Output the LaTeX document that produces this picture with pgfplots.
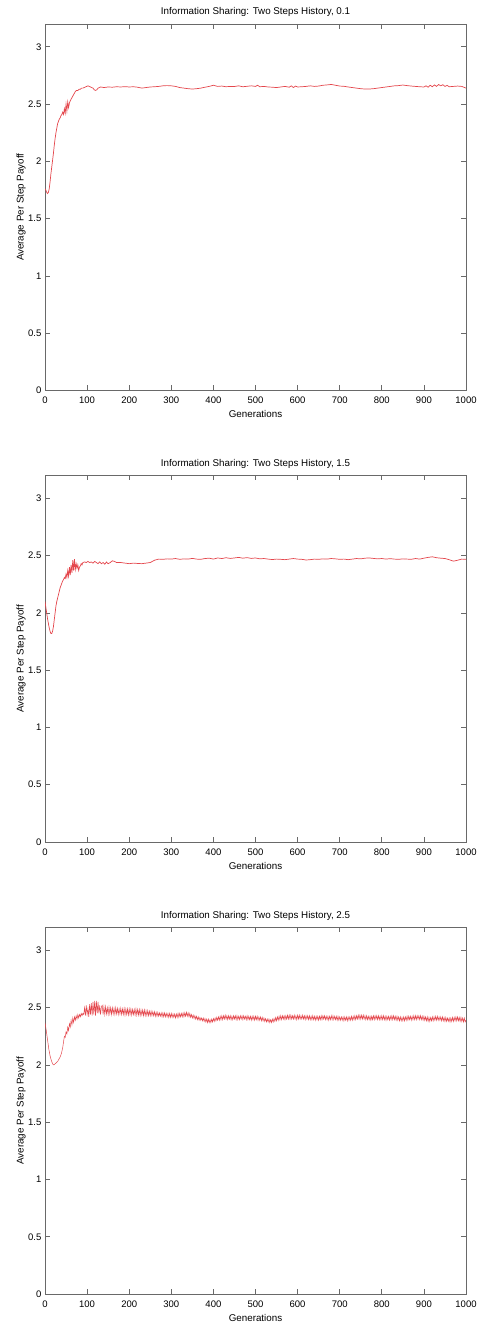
\documentclass[border=0pt]{standalone}
\usepackage{pgfplots}
\pgfplotsset{compat=1.18}
\usepackage{pgfplotstable}
\usepackage{fontspec}
\setmainfont{Liberation Sans}

\definecolor{linered}{RGB}{228,70,76}
\definecolor{framegray}{RGB}{105,105,105}

% panel 1: 0.1
\pgfplotstableread[row sep=\\]{
x y\\
0 1.76\\ 2 1.75\\ 4 1.73\\ 6 1.72\\ 8 1.73\\ 10 1.76\\ 12 1.82\\ 14 1.89\\ 16 1.95\\ 18 2.01\\
20 2.07\\ 22 2.14\\ 24 2.20\\ 26 2.25\\ 28 2.29\\ 30 2.33\\ 32 2.35\\ 34 2.37\\ 36 2.38\\ 38 2.40\\
40 2.41\\ 42 2.43\\ 44 2.41\\ 46 2.46\\ 48 2.42\\ 50 2.50\\ 52 2.44\\ 54 2.52\\ 56 2.47\\ 58 2.51\\
60 2.53\\ 63 2.55\\ 66 2.57\\ 69 2.59\\ 72 2.61\\ 75 2.62\\ 78 2.62\\ 81 2.63\\ 84 2.63\\ 87 2.64\\
90 2.64\\ 93 2.645\\ 96 2.65\\ 99 2.655\\ 102 2.66\\ 105 2.655\\ 108 2.65\\ 111 2.645\\ 114 2.64\\
117 2.625\\ 120 2.62\\ 123 2.625\\ 126 2.64\\ 129 2.645\\ 132 2.65\\ 140 2.645\\ 150 2.65\\
160 2.648\\ 170 2.652\\ 180 2.65\\ 190 2.653\\ 200 2.65\\ 210 2.652\\ 220 2.648\\ 230 2.64\\
240 2.645\\ 250 2.65\\ 260 2.652\\ 270 2.655\\ 280 2.66\\ 290 2.662\\ 300 2.66\\ 310 2.655\\
320 2.645\\ 330 2.64\\ 340 2.635\\ 350 2.632\\ 360 2.635\\ 370 2.64\\ 380 2.648\\ 390 2.655\\
400 2.665\\ 410 2.655\\ 420 2.658\\ 430 2.652\\ 440 2.655\\ 450 2.654\\ 460 2.66\\ 470 2.652\\
480 2.656\\ 490 2.66\\ 500 2.655\\ 505 2.665\\ 510 2.652\\ 520 2.655\\ 530 2.65\\ 540 2.648\\
550 2.645\\ 560 2.65\\ 570 2.655\\ 580 2.648\\ 585 2.66\\ 590 2.645\\ 595 2.658\\ 600 2.65\\
610 2.652\\ 620 2.655\\ 630 2.66\\ 640 2.655\\ 650 2.658\\ 660 2.665\\ 670 2.668\\ 680 2.672\\
690 2.665\\ 700 2.658\\ 710 2.656\\ 720 2.65\\ 730 2.645\\ 740 2.64\\ 750 2.635\\ 760 2.632\\
770 2.632\\ 780 2.635\\ 790 2.64\\ 800 2.645\\ 810 2.65\\ 820 2.655\\ 830 2.66\\ 840 2.662\\
850 2.667\\ 860 2.662\\ 870 2.658\\ 880 2.655\\ 890 2.652\\ 900 2.65\\ 905 2.66\\ 910 2.648\\
915 2.665\\ 920 2.652\\ 925 2.668\\ 930 2.655\\ 935 2.672\\ 940 2.66\\ 945 2.67\\ 950 2.655\\
955 2.664\\ 960 2.652\\ 970 2.655\\ 980 2.658\\ 990 2.655\\ 1000 2.64\\
}\dataA

% panel 2: 1.5
\pgfplotstableread[row sep=\\]{
x y\\
0 2.10\\ 2 2.05\\ 4 2.00\\ 6 1.95\\ 8 1.91\\ 10 1.87\\ 12 1.84\\ 14 1.82\\ 16 1.82\\ 18 1.84\\
20 1.88\\ 22 1.94\\ 24 2.00\\ 26 2.06\\ 28 2.10\\ 30 2.13\\ 32 2.16\\ 34 2.19\\ 36 2.22\\ 38 2.24\\
40 2.26\\ 42 2.28\\ 44 2.29\\ 46 2.31\\ 48 2.30\\ 50 2.34\\ 52 2.31\\ 54 2.37\\ 56 2.32\\ 58 2.40\\
60 2.33\\ 62 2.42\\ 64 2.35\\ 66 2.46\\ 68 2.37\\ 70 2.47\\ 72 2.38\\ 74 2.43\\ 76 2.39\\ 78 2.42\\
80 2.37\\ 82 2.40\\ 84 2.41\\ 86 2.43\\ 88 2.42\\ 90 2.44\\ 94 2.445\\ 98 2.44\\ 102 2.45\\
106 2.44\\ 110 2.445\\ 114 2.435\\ 118 2.45\\ 122 2.44\\ 126 2.43\\ 130 2.445\\ 134 2.43\\
138 2.44\\ 142 2.425\\ 146 2.445\\ 150 2.43\\ 155 2.44\\ 160 2.455\\ 165 2.45\\ 170 2.44\\
180 2.44\\ 190 2.435\\ 200 2.43\\ 210 2.435\\ 220 2.432\\ 230 2.43\\ 240 2.435\\ 250 2.44\\
255 2.45\\ 260 2.46\\ 270 2.47\\ 280 2.468\\ 290 2.472\\ 300 2.47\\ 310 2.475\\ 320 2.468\\
330 2.472\\ 340 2.47\\ 350 2.476\\ 360 2.47\\ 370 2.468\\ 380 2.475\\ 390 2.478\\ 400 2.47\\
410 2.48\\ 420 2.475\\ 430 2.482\\ 440 2.476\\ 450 2.48\\ 460 2.485\\ 470 2.478\\ 480 2.483\\
490 2.476\\ 500 2.48\\ 510 2.472\\ 520 2.475\\ 530 2.47\\ 540 2.466\\ 550 2.47\\ 560 2.468\\
570 2.465\\ 580 2.47\\ 590 2.475\\ 600 2.47\\ 610 2.468\\ 620 2.462\\ 630 2.465\\ 640 2.47\\
650 2.468\\ 660 2.472\\ 670 2.47\\ 680 2.475\\ 690 2.472\\ 700 2.468\\ 710 2.47\\ 720 2.465\\
730 2.47\\ 740 2.475\\ 750 2.472\\ 760 2.478\\ 770 2.48\\ 780 2.476\\ 790 2.472\\ 800 2.475\\
810 2.47\\ 820 2.474\\ 830 2.47\\ 840 2.468\\ 850 2.472\\ 860 2.47\\ 870 2.468\\ 880 2.475\\
890 2.47\\ 900 2.478\\ 910 2.485\\ 920 2.49\\ 930 2.482\\ 940 2.478\\ 950 2.475\\ 960 2.465\\
970 2.452\\ 980 2.46\\ 990 2.47\\ 1000 2.468\\
}\dataB

% panel 3: 2.5
\pgfplotstableread[row sep=\\]{
x y\\
0 2.37\\ 3 2.30\\ 6 2.22\\ 9 2.14\\ 12 2.08\\ 15 2.04\\ 18 2.01\\ 21 2.00\\ 24 2.01\\ 27 2.02\\
30 2.03\\ 33 2.05\\ 36 2.07\\ 39 2.10\\ 42 2.15\\ 44 2.20\\ 46 2.25\\ 48 2.24\\ 50 2.29\\ 52 2.27\\
54 2.33\\ 56 2.30\\ 58 2.36\\ 60 2.33\\ 62 2.39\\ 64 2.35\\ 66 2.41\\ 68 2.37\\ 70 2.42\\ 72 2.39\\
74 2.43\\ 76 2.40\\ 78 2.44\\ 80 2.41\\ 82 2.44\\ 84 2.42\\ 86 2.45\\ 88 2.43\\ 90 2.45\\ 92 2.44\\
94 2.50\\ 96 2.43\\ 98 2.52\\ 100 2.44\\ 102 2.49\\ 104 2.42\\ 106 2.53\\ 108 2.44\\ 110 2.54\\
112 2.43\\ 114 2.55\\ 116 2.44\\ 118 2.56\\ 120 2.43\\ 122 2.56\\ 124 2.45\\ 126 2.55\\ 128 2.45\\
130 2.52\\ 132 2.44\\ 134 2.51\\
136 2.52\\ 138 2.44\\ 140 2.51\\ 142 2.44\\ 144 2.51\\ 146 2.445\\ 148 2.50\\ 150 2.44\\
152 2.505\\ 154 2.445\\ 156 2.50\\ 158 2.44\\ 160 2.50\\ 162 2.445\\ 164 2.495\\ 166 2.44\\
168 2.50\\ 170 2.445\\ 172 2.495\\ 174 2.44\\ 176 2.49\\ 178 2.445\\ 180 2.495\\ 182 2.44\\
184 2.49\\ 186 2.44\\ 188 2.495\\ 190 2.435\\ 192 2.49\\ 194 2.44\\ 196 2.49\\ 198 2.435\\
200 2.49\\ 202 2.44\\ 204 2.49\\ 206 2.435\\ 208 2.485\\ 210 2.44\\ 212 2.485\\ 214 2.435\\
216 2.49\\ 218 2.435\\ 220 2.485\\ 222 2.435\\ 224 2.485\\ 226 2.43\\ 228 2.48\\ 230 2.435\\
232 2.48\\ 234 2.43\\ 236 2.48\\ 238 2.43\\ 240 2.475\\ 242 2.43\\ 244 2.475\\ 246 2.43\\
248 2.47\\ 250 2.43\\ 252 2.47\\ 254 2.43\\ 256 2.465\\ 258 2.43\\ 260 2.465\\ 262 2.425\\
264 2.46\\ 266 2.425\\ 268 2.46\\ 270 2.425\\ 272 2.455\\ 274 2.425\\ 276 2.455\\ 278 2.42\\
280 2.455\\ 282 2.42\\ 284 2.455\\ 286 2.42\\ 288 2.45\\ 290 2.42\\ 292 2.45\\ 294 2.415\\
296 2.45\\ 298 2.415\\ 300 2.45\\ 302 2.415\\ 304 2.445\\ 306 2.415\\ 308 2.445\\ 310 2.41\\
312 2.445\\ 314 2.415\\ 316 2.45\\ 318 2.415\\ 320 2.45\\ 322 2.42\\ 324 2.45\\ 326 2.42\\
328 2.455\\ 330 2.42\\ 332 2.455\\ 334 2.425\\ 336 2.46\\ 338 2.425\\ 340 2.455\\ 342 2.42\\
344 2.45\\ 346 2.415\\ 348 2.44\\ 350 2.41\\ 352 2.435\\ 354 2.405\\ 356 2.43\\ 358 2.40\\
360 2.425\\ 362 2.395\\ 364 2.42\\ 366 2.39\\ 368 2.415\\ 370 2.39\\ 372 2.41\\ 374 2.385\\
376 2.41\\ 378 2.38\\ 380 2.405\\ 382 2.375\\ 384 2.40\\ 386 2.37\\ 388 2.40\\ 390 2.37\\
392 2.395\\ 394 2.37\\ 396 2.40\\ 398 2.375\\ 400 2.405\\ 402 2.38\\ 404 2.41\\ 406 2.385\\
408 2.415\\ 410 2.39\\ 412 2.42\\ 414 2.39\\ 416 2.425\\ 418 2.395\\ 420 2.43\\ 422 2.395\\
424 2.43\\ 426 2.40\\ 428 2.435\\ 430 2.40\\ 432 2.43\\ 434 2.395\\ 436 2.43\\ 438 2.40\\
440 2.43\\ 442 2.395\\ 444 2.425\\ 446 2.395\\ 448 2.43\\ 450 2.40\\ 452 2.43\\ 454 2.395\\
456 2.43\\ 458 2.395\\ 460 2.425\\ 462 2.395\\ 464 2.43\\ 466 2.40\\ 468 2.43\\ 470 2.395\\
472 2.43\\ 474 2.40\\ 476 2.425\\ 478 2.395\\ 480 2.43\\ 482 2.395\\ 484 2.425\\ 486 2.395\\
488 2.425\\ 490 2.39\\ 492 2.425\\ 494 2.395\\ 496 2.425\\ 498 2.39\\ 500 2.425\\ 502 2.395\\
504 2.425\\ 506 2.39\\ 508 2.42\\ 510 2.39\\ 512 2.42\\ 514 2.385\\ 516 2.415\\ 518 2.385\\
520 2.41\\ 522 2.38\\ 524 2.405\\ 526 2.375\\ 528 2.40\\ 530 2.375\\ 532 2.40\\ 534 2.37\\
536 2.395\\ 538 2.37\\ 540 2.40\\ 542 2.375\\ 544 2.405\\ 546 2.38\\ 548 2.415\\ 550 2.385\\
552 2.42\\ 554 2.39\\ 556 2.425\\ 558 2.395\\ 560 2.43\\ 562 2.395\\ 564 2.43\\ 566 2.40\\
568 2.43\\ 570 2.395\\ 572 2.43\\ 574 2.40\\ 576 2.435\\ 578 2.40\\ 580 2.435\\ 582 2.40\\
584 2.435\\ 586 2.40\\ 588 2.43\\ 590 2.40\\ 592 2.435\\ 594 2.40\\ 596 2.43\\ 598 2.395\\
600 2.435\\ 602 2.40\\ 604 2.435\\ 606 2.40\\ 608 2.43\\ 610 2.40\\ 612 2.435\\ 614 2.40\\
616 2.43\\ 618 2.395\\ 620 2.43\\ 622 2.40\\ 624 2.43\\ 626 2.395\\ 628 2.43\\ 630 2.395\\
632 2.425\\ 634 2.395\\ 636 2.43\\ 638 2.395\\ 640 2.425\\ 642 2.39\\ 644 2.425\\ 646 2.395\\
648 2.425\\ 650 2.39\\ 652 2.425\\ 654 2.395\\ 656 2.43\\ 658 2.395\\ 660 2.43\\ 662 2.40\\
664 2.43\\ 666 2.395\\ 668 2.425\\ 670 2.395\\ 672 2.425\\ 674 2.39\\ 676 2.425\\ 678 2.395\\
680 2.43\\ 682 2.395\\ 684 2.43\\ 686 2.395\\ 688 2.425\\ 690 2.395\\ 692 2.425\\ 694 2.39\\
696 2.425\\ 698 2.39\\ 700 2.42\\ 702 2.39\\ 704 2.42\\ 706 2.39\\ 708 2.42\\ 710 2.385\\
712 2.42\\ 714 2.39\\ 716 2.42\\ 718 2.385\\ 720 2.42\\ 722 2.39\\ 724 2.42\\ 726 2.39\\
728 2.425\\ 730 2.39\\ 732 2.425\\ 734 2.395\\ 736 2.43\\ 738 2.395\\ 740 2.43\\ 742 2.40\\
744 2.435\\ 746 2.40\\ 748 2.435\\ 750 2.40\\ 752 2.435\\ 754 2.40\\ 756 2.435\\ 758 2.40\\
760 2.43\\ 762 2.395\\ 764 2.43\\ 766 2.395\\ 768 2.425\\ 770 2.395\\ 772 2.425\\ 774 2.39\\
776 2.425\\ 778 2.395\\ 780 2.43\\ 782 2.395\\ 784 2.43\\ 786 2.40\\ 788 2.43\\ 790 2.395\\
792 2.43\\ 794 2.395\\ 796 2.425\\ 798 2.395\\ 800 2.43\\ 802 2.395\\ 804 2.43\\ 806 2.395\\
808 2.425\\ 810 2.39\\ 812 2.425\\ 814 2.395\\ 816 2.425\\ 818 2.39\\ 820 2.425\\ 822 2.395\\
824 2.43\\ 826 2.395\\ 828 2.43\\ 830 2.395\\ 832 2.425\\ 834 2.39\\ 836 2.425\\ 838 2.39\\
840 2.42\\ 842 2.385\\ 844 2.42\\ 846 2.385\\ 848 2.415\\ 850 2.385\\ 852 2.42\\ 854 2.385\\
856 2.42\\ 858 2.39\\ 860 2.425\\ 862 2.39\\ 864 2.425\\ 866 2.395\\ 868 2.425\\ 870 2.39\\
872 2.425\\ 874 2.395\\ 876 2.43\\ 878 2.395\\ 880 2.43\\ 882 2.395\\ 884 2.43\\ 886 2.40\\
888 2.43\\ 890 2.395\\ 892 2.43\\ 894 2.395\\ 896 2.425\\ 898 2.39\\ 900 2.425\\ 902 2.39\\
904 2.42\\ 906 2.385\\ 908 2.42\\ 910 2.38\\ 912 2.415\\ 914 2.38\\ 916 2.415\\ 918 2.385\\
920 2.42\\ 922 2.385\\ 924 2.42\\ 926 2.39\\ 928 2.425\\ 930 2.39\\ 932 2.425\\ 934 2.39\\
936 2.42\\ 938 2.39\\ 940 2.42\\ 942 2.385\\ 944 2.42\\ 946 2.385\\ 948 2.415\\ 950 2.38\\
952 2.415\\ 954 2.38\\ 956 2.41\\ 958 2.38\\ 960 2.41\\ 962 2.375\\ 964 2.41\\ 966 2.38\\
968 2.415\\ 970 2.38\\ 972 2.415\\ 974 2.385\\ 976 2.42\\ 978 2.385\\ 980 2.42\\ 982 2.385\\
984 2.415\\ 986 2.38\\ 988 2.415\\ 990 2.38\\ 992 2.41\\ 994 2.375\\ 996 2.41\\ 998 2.375\\
1000 2.39\\
}\dataC

\pgfplotsset{
  panel/.style={
    scale only axis,
    width=421pt, height=366.5pt,
    xmin=0, xmax=1000, ymin=0, ymax=3.2,
    xtick={0,100,...,1000}, ytick={0,0.5,...,3},
    tick align=inside,
    major tick length=5pt,
    axis line style={draw=framegray, line width=0.8pt},
    tick style={draw=framegray, line width=0.8pt},
    /pgf/number format/assume math mode=true,
    /pgf/number format/1000 sep={},
    ticklabel style={font=\fontsize{9.5}{11}\selectfont},
    xticklabel style={inner sep=0pt, yshift=-6.5pt},
    yticklabel style={inner sep=0pt, xshift=-3.5pt},
    title style={font=\fontsize{9.8}{11}\selectfont, at={(0.5,1)}, anchor=south, inner sep=0pt, yshift=1pt},
    xlabel={Generations},
    xlabel style={font=\fontsize{9.8}{11}\selectfont, at={(axis description cs:0.5,0)}, anchor=north, inner sep=0pt, yshift=-20pt},
    ylabel={Average Per Step Payoff},
    ylabel style={font=\fontsize{9.8}{11}\selectfont, at={(axis description cs:-0.057,0.5)}, anchor=center, inner sep=0pt},
  },
  redline/.style={color=linered, line width=0.7pt, no marks},
}

\begin{document}
\begin{tikzpicture}
\path[use as bounding box] (0pt,0pt) rectangle (479pt,1325pt);

\begin{axis}[panel, at={(45pt,934.5pt)}, anchor=south west,
  title={Information Sharing: Two Steps History, 0.1}]
\addplot[redline] table[x=x,y=y] {\dataA};
\end{axis}

\begin{axis}[panel, at={(45pt,483pt)}, anchor=south west,
  title={Information Sharing: Two Steps History, 1.5}]
\addplot[redline] table[x=x,y=y] {\dataB};
\end{axis}

\begin{axis}[panel, at={(45pt,31pt)}, anchor=south west,
  title={Information Sharing: Two Steps History, 2.5}]
\addplot[redline, line width=0.5pt] table[x=x,y=y] {\dataC};
\end{axis}
\end{tikzpicture}
\end{document}
